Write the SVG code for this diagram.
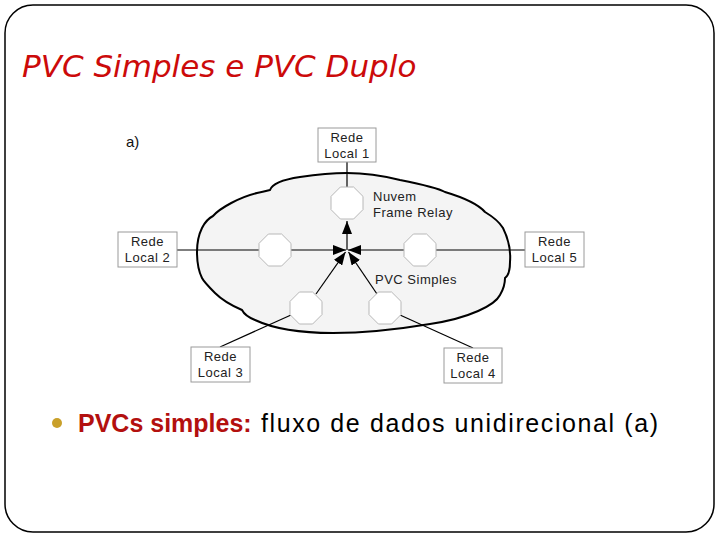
<svg xmlns="http://www.w3.org/2000/svg" width="720" height="540" viewBox="0 0 720 540">
  <style>
    .lbl { font-family: "Liberation Sans", Arial, sans-serif; font-size: 13px; letter-spacing: 0.5px; fill: #222; }
    .mid { text-anchor: middle; }
    .box { fill: #ffffff; stroke: #9a9a9a; stroke-width: 1; }
    .oct { fill: #ffffff; stroke: #b8b8b8; stroke-width: 1; }
    .ln { stroke: #000; stroke-width: 1.2; fill: none; }
    .arr { stroke: #000; stroke-width: 1.2; fill: none; marker-end: url(#ah); }
  </style>
  <defs>
    <marker id="ah" markerUnits="userSpaceOnUse" markerWidth="14" markerHeight="10" refX="13" refY="5" orient="auto">
      <path d="M0,0 L13,5 L0,10 Z" fill="#000"/>
    </marker>
    <polygon id="octshape" points="-6.6,-16 6.6,-16 16,-6.6 16,6.6 6.6,16 -6.6,16 -16,6.6 -16,-6.6"/>
  </defs>

  <rect x="0" y="0" width="720" height="540" fill="#ffffff"/>
  <rect id="frame" x="5" y="5" width="709" height="527" rx="28" ry="28" fill="none" stroke="#000" stroke-width="1.5"/>

  <text id="title" x="22" y="77" font-family="'DejaVu Sans', Verdana, sans-serif" font-style="italic" font-size="31" fill="#cc0a0a">PVC Simples e PVC Duplo</text>

  <text id="label-a" x="126" y="147" font-family="'Liberation Sans', Arial, sans-serif" font-size="15" fill="#111">a)</text>

  <g id="cloud">
    <path d="M197,252 C197,232 205,220 213,216 C220,208 240,197 257,193 C262,192 266,191 270,190 C272,184 280,180 300,177 C320,174 335,173 347,173 C365,173 380,175 400,180 C420,184 438,188 445,192 C465,198 478,204 485,212 C495,218 500,223 503,228 C508,238 511,250 510,262 C510,270 508,276 505,278 C505,286 503,290 500,295 C495,305 470,318 430,324 C400,329 365,333 333,333 C300,333 272,328 255,320 C245,316 243,312 242,310 C228,304 220,298 215,293 C207,285 203,280 202,278 C199,272 197,262 197,252 Z" fill="#f4f4f4" stroke="#000" stroke-width="2"/>
  </g>

  <g id="connectors">
    <line class="ln" x1="347" y1="162" x2="347" y2="187"/>
    <line class="arr" x1="347" y1="250" x2="347" y2="221"/>
    <line class="arr" x1="177" y1="250" x2="346" y2="250"/>
    <line class="arr" x1="525" y1="250" x2="348" y2="250"/>
    <line class="arr" x1="316" y1="294" x2="345.5" y2="252"/>
    <line class="arr" x1="377" y1="294" x2="348.5" y2="252"/>
    <line class="ln" x1="220" y1="347" x2="291" y2="315"/>
    <line class="ln" x1="473" y1="348" x2="400" y2="315"/>
  </g>

  <g id="switch-1"><use href="#octshape" class="oct" x="347" y="203"/></g>
  <g id="switch-2"><use href="#octshape" class="oct" x="275" y="250"/></g>
  <g id="switch-5"><use href="#octshape" class="oct" x="420" y="250"/></g>
  <g id="switch-3"><use href="#octshape" class="oct" x="306" y="308"/></g>
  <g id="switch-4"><use href="#octshape" class="oct" x="385" y="308"/></g>

  <g id="cloud-label">
    <text class="lbl" x="373" y="201">Nuvem</text>
    <text class="lbl" x="373" y="217">Frame Relay</text>
  </g>
  <g id="pvc-label">
    <text class="lbl" x="375" y="284">PVC Simples</text>
  </g>

  <g id="lan-1">
    <rect class="box" x="318" y="128" width="58" height="34"/>
    <text class="lbl mid" x="347" y="141.5">Rede</text>
    <text class="lbl mid" x="347" y="158">Local 1</text>
  </g>
  <g id="lan-2">
    <rect class="box" x="118" y="232" width="59" height="35"/>
    <text class="lbl mid" x="147.5" y="245.5">Rede</text>
    <text class="lbl mid" x="147.5" y="262">Local 2</text>
  </g>
  <g id="lan-5">
    <rect class="box" x="525" y="232" width="59" height="35"/>
    <text class="lbl mid" x="554.5" y="245.5">Rede</text>
    <text class="lbl mid" x="554.5" y="262">Local 5</text>
  </g>
  <g id="lan-3">
    <rect class="box" x="191" y="347" width="59" height="35"/>
    <text class="lbl mid" x="220.5" y="360.5">Rede</text>
    <text class="lbl mid" x="220.5" y="377">Local 3</text>
  </g>
  <g id="lan-4">
    <rect class="box" x="444" y="348" width="58" height="35"/>
    <text class="lbl mid" x="473" y="361.5">Rede</text>
    <text class="lbl mid" x="473" y="378">Local 4</text>
  </g>

  <g id="bullet">
    <circle cx="57" cy="423" r="5" fill="#c9a02a"/>
    <text x="78" y="432" font-family="'Liberation Sans', Arial, sans-serif" font-size="25"><tspan font-weight="bold" fill="#b3100f">PVCs simples:</tspan><tspan x="261" fill="#000" letter-spacing="1.6">fluxo de dados unidirecional (a)</tspan></text>
  </g>
</svg>
